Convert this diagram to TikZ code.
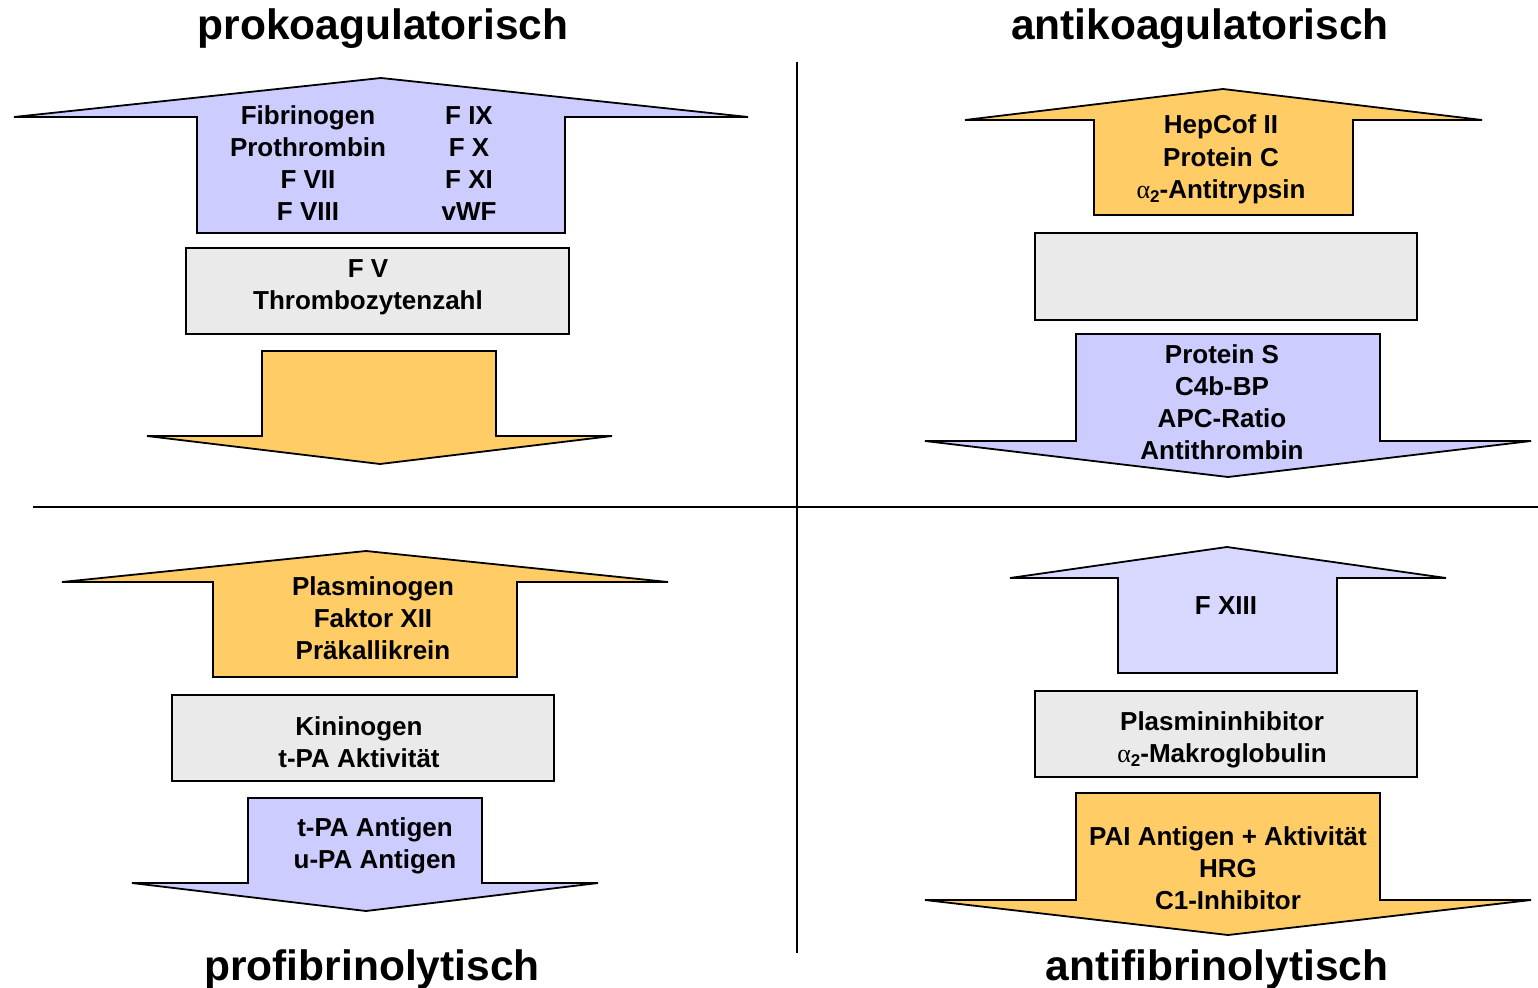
\documentclass[tikz,border=0pt]{standalone}
\usepackage{fontspec}
\setmainfont{Liberation Sans}
\newfontfamily\alphafont{Liberation Serif}
\definecolor{lblue}{HTML}{CCCCFF}
\definecolor{llblue}{HTML}{D8D8FF}
\definecolor{lorange}{HTML}{FFCC66}
\definecolor{lgrey}{HTML}{EAEAEA}
\newcommand{\alphatwo}{{\alphafont\mdseries α}\raisebox{-0.35ex}{\fontsize{17}{17}\selectfont 2}}
\tikzset{
  shape outline/.style={draw=black, line width=1.8pt, line join=miter},
  txt/.style={font=\fontsize{26}{32}\selectfont\bfseries, align=center, inner sep=0pt},
  ttl/.style={font=\fontsize{42.5}{44}\selectfont\bfseries, inner sep=0pt},
  sep/.style={draw=black, line width=1.6pt}
}
\begin{document}
\begin{tikzpicture}[x=1pt,y=-1pt]
\useasboundingbox (0,0) rectangle (1538,987);
% separators
\coordinate (vt) at (797,62); \coordinate (vb) at (797,953);
\coordinate (hl) at (33,507); \coordinate (hr) at (1538,507);
\draw[sep] (vt) -- (vb);
\draw[sep] (hl) -- (hr);
% titles
\node[ttl, anchor=base] (t1) at (383,40) {prokoagulatorisch};
\node[ttl, anchor=base] (t2) at (1200,40) {antikoagulatorisch};
\node[ttl, anchor=base] (t3) at (372,980) {profibrinolytisch};
\node[ttl, anchor=base] (t4) at (1217,980) {antifibrinolytisch};
% ---- top left
\draw[shape outline, fill=lblue] (381,78) -- (748,117) -- (565,117) -- (565,233) -- (197,233) -- (197,117) -- (14,117) -- cycle;
\node[txt, anchor=base] (a1) at (308,220) {Fibrinogen\\Prothrombin\\F VII\\F VIII};
\node[txt, anchor=base] (a2) at (469,220) {F IX\\F X\\F XI\\vWF};
\draw[shape outline, fill=lgrey] (186,248) rectangle (569,334);
\node[txt, anchor=base] (b1) at (368,309) {F V\\Thrombozytenzahl};
\draw[shape outline, fill=lorange] (262,351) -- (496,351) -- (496,436) -- (612,436) -- (380,464) -- (147,436) -- (262,436) -- cycle;
% ---- top right
\draw[shape outline, fill=lorange] (1223,89) -- (1482,120) -- (1353,120) -- (1353,215) -- (1094,215) -- (1094,120) -- (965,120) -- cycle;
\node[txt, anchor=base] (c1) at (1221,198) {HepCof II\\Protein C\\\alphatwo-Antitrypsin};
\draw[shape outline, fill=lgrey] (1035,233) rectangle (1417,320);
\draw[shape outline, fill=lblue] (1076,334) -- (1380,334) -- (1380,441) -- (1531,441) -- (1228,477) -- (925,441) -- (1076,441) -- cycle;
\node[txt, anchor=base] (d1) at (1222,459) {Protein S\\C4b-BP\\APC-Ratio\\Antithrombin};
% ---- bottom left
\draw[shape outline, fill=lorange] (366,551) -- (668,582) -- (517,582) -- (517,677) -- (213,677) -- (213,582) -- (62,582) -- cycle;
\node[txt, anchor=base] (e1) at (373,659) {Plasminogen\\Faktor XII\\Präkallikrein};
\draw[shape outline, fill=lgrey] (172,695) rectangle (554,781);
\node[txt, anchor=base] (f1) at (359,767) {Kininogen\\t-PA Aktivität};
\draw[shape outline, fill=lblue] (248,798) -- (482,798) -- (482,883) -- (598,883) -- (366,911) -- (132,883) -- (248,883) -- cycle;
\node[txt, anchor=base] (g1) at (375,868) {t-PA Antigen\\u-PA Antigen};
% ---- bottom right
\draw[shape outline, fill=llblue] (1227,547) -- (1446,578) -- (1337,578) -- (1337,673) -- (1118,673) -- (1118,578) -- (1010,578) -- cycle;
\node[txt, anchor=base] (h1) at (1226,614) {F XIII};
\draw[shape outline, fill=lgrey] (1035,691) rectangle (1417,777);
\node[txt, anchor=base] (i1) at (1222,762) {Plasmininhibitor\\\alphatwo-Makroglobulin};
\draw[shape outline, fill=lorange] (1076,793) -- (1380,793) -- (1380,900) -- (1531,900) -- (1228,935) -- (925,900) -- (1076,900) -- cycle;
\node[txt, anchor=base] (j1) at (1228,909) {PAI Antigen + Aktivität\\HRG\\C1-Inhibitor};
\end{tikzpicture}
\end{document}
